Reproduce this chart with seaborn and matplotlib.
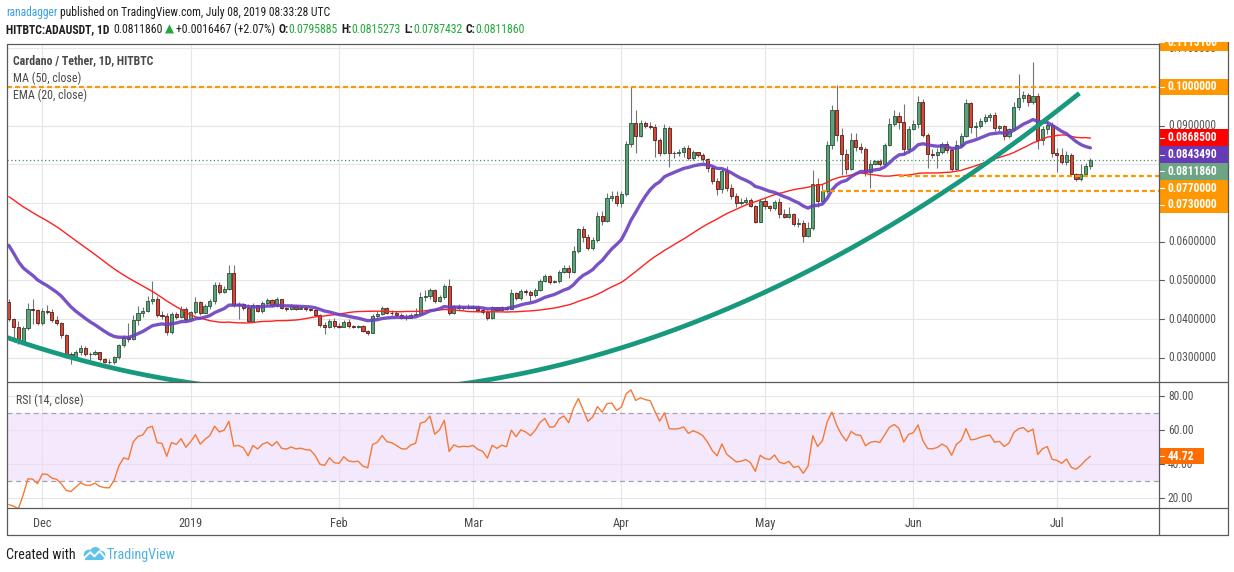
import numpy as np
import pandas as pd
import seaborn as sns
import matplotlib
matplotlib.use("Agg")
import matplotlib.pyplot as plt
import matplotlib.dates as mdates
from matplotlib import font_manager
from matplotlib.lines import Line2D
from matplotlib.patches import Rectangle, Circle

# ---- ADA/USDT daily candles (HitBTC, 2018-11-24 .. 2019-07-08) ----
first_day = "2018-11-24"
first_open = 0.0445

closes = [
    0.0399, 0.0380, 0.0343, 0.0378, 0.0426, 0.0423, 0.0391, 0.0421, 0.0419, 0.0397,
    0.0389, 0.0360, 0.0311, 0.0303, 0.0314, 0.0325, 0.0311, 0.0309, 0.0314, 0.0296,
    0.0289, 0.0288, 0.0302, 0.0333, 0.0353, 0.0348, 0.0397, 0.0416, 0.0421, 0.0447,
    0.0453, 0.0410, 0.0408, 0.0367, 0.0412, 0.0406, 0.0426, 0.0399, 0.0418, 0.0445,
    0.0415, 0.0433, 0.0447, 0.0488, 0.0471, 0.0479, 0.0520, 0.0436, 0.0438, 0.0429,
    0.0396, 0.0436, 0.0422, 0.0441, 0.0449, 0.0436, 0.0452, 0.0429, 0.0426, 0.0433,
    0.0427, 0.0429, 0.0425, 0.0424, 0.0410, 0.0384, 0.0380, 0.0396, 0.0382, 0.0380,
    0.0393, 0.0382, 0.0380, 0.0381, 0.0369, 0.0365, 0.0408, 0.0413, 0.0429, 0.0417,
    0.0415, 0.0410, 0.0404, 0.0403, 0.0410, 0.0413, 0.0456, 0.0460, 0.0476, 0.0447,
    0.0458, 0.0486, 0.0415, 0.0434, 0.0428, 0.0430, 0.0429, 0.0432, 0.0423, 0.0419,
    0.0403, 0.0430, 0.0423, 0.0430, 0.0427, 0.0467, 0.0454, 0.0473, 0.0469, 0.0462,
    0.0476, 0.0499, 0.0512, 0.0497, 0.0498, 0.0522, 0.0532, 0.0521, 0.0577, 0.0634,
    0.0611, 0.0584, 0.0605, 0.0667, 0.0653, 0.0713, 0.0719, 0.0700, 0.0723, 0.0852,
    0.0908, 0.0874, 0.0906, 0.0900, 0.0897, 0.0864, 0.0830, 0.0893, 0.0830, 0.0828,
    0.0831, 0.0841, 0.0817, 0.0831, 0.0824, 0.0814, 0.0791, 0.0758, 0.0736, 0.0783,
    0.0738, 0.0719, 0.0700, 0.0702, 0.0708, 0.0693, 0.0652, 0.0706, 0.0691, 0.0687,
    0.0702, 0.0671, 0.0664, 0.0671, 0.0645, 0.0648, 0.0616, 0.0635, 0.0749, 0.0704,
    0.0731, 0.0849, 0.0941, 0.0877, 0.0827, 0.0789, 0.0863, 0.0844, 0.0840, 0.0779,
    0.0802, 0.0808, 0.0802, 0.0850, 0.0904, 0.0926, 0.0909, 0.0840, 0.0891, 0.0904,
    0.0962, 0.0877, 0.0827, 0.0825, 0.0833, 0.0853, 0.0838, 0.0789, 0.0850, 0.0874,
    0.0958, 0.0896, 0.0900, 0.0913, 0.0921, 0.0927, 0.0893, 0.0898, 0.0874, 0.0891,
    0.0948, 0.0971, 0.0978, 0.0962, 0.0977, 0.0862, 0.0891, 0.0902, 0.0830, 0.0824,
    0.0806, 0.0824, 0.0774, 0.0761, 0.0776, 0.0796, 0.081186,
]

highs = [
    0.0452, 0.0402, 0.0395, 0.0382, 0.0442, 0.0452, 0.0425, 0.0428, 0.0436, 0.0425,
    0.0408, 0.0392, 0.0362, 0.0316, 0.0320, 0.0332, 0.0330, 0.0315, 0.0320, 0.0316,
    0.0300, 0.0296, 0.0305, 0.0336, 0.0360, 0.0390, 0.0410, 0.0434, 0.0430, 0.0460,
    0.0498, 0.0460, 0.0420, 0.0415, 0.0418, 0.0418, 0.0433, 0.0430, 0.0422, 0.0458,
    0.0448, 0.0438, 0.0452, 0.0495, 0.0497, 0.0485, 0.0540, 0.0540, 0.0445, 0.0442,
    0.0440, 0.0442, 0.0436, 0.0446, 0.0455, 0.0452, 0.0458, 0.0452, 0.0432, 0.0438,
    0.0436, 0.0433, 0.0431, 0.0428, 0.0426, 0.0414, 0.0392, 0.0400, 0.0402, 0.0390,
    0.0397, 0.0399, 0.0386, 0.0385, 0.0385, 0.0372, 0.0412, 0.0421, 0.0435, 0.0432,
    0.0424, 0.0422, 0.0416, 0.0412, 0.0415, 0.0428, 0.0469, 0.0475, 0.0480, 0.0478,
    0.0463, 0.0490, 0.0503, 0.0437, 0.0440, 0.0434, 0.0438, 0.0436, 0.0436, 0.0430,
    0.0423, 0.0433, 0.0432, 0.0434, 0.0433, 0.0479, 0.0470, 0.0477, 0.0478, 0.0475,
    0.0480, 0.0503, 0.0516, 0.0514, 0.0502, 0.0527, 0.0540, 0.0540, 0.0590, 0.0636,
    0.0640, 0.0620, 0.0612, 0.0676, 0.0680, 0.0725, 0.0730, 0.0730, 0.0730, 0.0860,
    0.1000, 0.0940, 0.0915, 0.0912, 0.0910, 0.0905, 0.0868, 0.0904, 0.0900, 0.0835,
    0.0840, 0.0846, 0.0850, 0.0836, 0.0833, 0.0830, 0.0815, 0.0795, 0.0765, 0.0788,
    0.0795, 0.0748, 0.0725, 0.0714, 0.0716, 0.0712, 0.0696, 0.0710, 0.0712, 0.0695,
    0.0708, 0.0712, 0.0685, 0.0690, 0.0675, 0.0660, 0.0655, 0.0650, 0.0785, 0.0765,
    0.0750, 0.0860, 0.0952, 0.1004, 0.0895, 0.0840, 0.0880, 0.0880, 0.0856, 0.0845,
    0.0808, 0.0812, 0.0813, 0.0856, 0.0920, 0.0940, 0.0935, 0.0955, 0.0898, 0.0915,
    0.0976, 0.0968, 0.0880, 0.0840, 0.0842, 0.0858, 0.0860, 0.0840, 0.0862, 0.0880,
    0.0970, 0.0962, 0.0910, 0.0920, 0.0930, 0.0933, 0.0934, 0.0902, 0.0902, 0.0895,
    0.0960, 0.1033, 0.0990, 0.0985, 0.1065, 0.0985, 0.0898, 0.0912, 0.0910, 0.0842,
    0.0842, 0.0835, 0.0830, 0.0778, 0.0800, 0.0804, 0.0815273,
]

lows = [
    0.0395, 0.0341, 0.0335, 0.0338, 0.0372, 0.0388, 0.0385, 0.0385, 0.0414, 0.0392,
    0.0385, 0.0352, 0.0305, 0.0285, 0.0300, 0.0308, 0.0305, 0.0290, 0.0306, 0.0292,
    0.0286, 0.0284, 0.0285, 0.0296, 0.0328, 0.0342, 0.0346, 0.0386, 0.0405, 0.0418,
    0.0438, 0.0405, 0.0400, 0.0360, 0.0362, 0.0400, 0.0402, 0.0394, 0.0398, 0.0414,
    0.0410, 0.0418, 0.0426, 0.0438, 0.0466, 0.0468, 0.0476, 0.0430, 0.0400, 0.0424,
    0.0392, 0.0395, 0.0418, 0.0415, 0.0436, 0.0432, 0.0432, 0.0425, 0.0422, 0.0423,
    0.0424, 0.0425, 0.0421, 0.0420, 0.0407, 0.0380, 0.0362, 0.0377, 0.0378, 0.0376,
    0.0381, 0.0378, 0.0377, 0.0378, 0.0366, 0.0360, 0.0363, 0.0404, 0.0410, 0.0414,
    0.0411, 0.0407, 0.0399, 0.0398, 0.0402, 0.0408, 0.0411, 0.0448, 0.0452, 0.0442,
    0.0443, 0.0452, 0.0410, 0.0412, 0.0424, 0.0423, 0.0425, 0.0426, 0.0418, 0.0414,
    0.0397, 0.0400, 0.0420, 0.0420, 0.0424, 0.0425, 0.0449, 0.0450, 0.0463, 0.0445,
    0.0458, 0.0472, 0.0495, 0.0490, 0.0493, 0.0492, 0.0518, 0.0505, 0.0518, 0.0570,
    0.0600, 0.0578, 0.0578, 0.0600, 0.0642, 0.0650, 0.0705, 0.0692, 0.0690, 0.0718,
    0.0845, 0.0828, 0.0870, 0.0893, 0.0892, 0.0820, 0.0822, 0.0826, 0.0792, 0.0815,
    0.0822, 0.0820, 0.0810, 0.0812, 0.0818, 0.0806, 0.0780, 0.0748, 0.0720, 0.0727,
    0.0730, 0.0710, 0.0690, 0.0695, 0.0698, 0.0690, 0.0648, 0.0650, 0.0684, 0.0680,
    0.0682, 0.0660, 0.0660, 0.0660, 0.0640, 0.0638, 0.0600, 0.0612, 0.0630, 0.0690,
    0.0700, 0.0726, 0.0840, 0.0860, 0.0772, 0.0776, 0.0785, 0.0835, 0.0830, 0.0770,
    0.0740, 0.0798, 0.0796, 0.0798, 0.0846, 0.0900, 0.0890, 0.0825, 0.0830, 0.0888,
    0.0895, 0.0870, 0.0790, 0.0815, 0.0790, 0.0826, 0.0828, 0.0782, 0.0785, 0.0845,
    0.0870, 0.0880, 0.0870, 0.0895, 0.0908, 0.0912, 0.0885, 0.0886, 0.0862, 0.0868,
    0.0885, 0.0940, 0.0960, 0.0950, 0.0955, 0.0840, 0.0850, 0.0878, 0.0820, 0.0780,
    0.0800, 0.0798, 0.0770, 0.0757, 0.0758, 0.0770, 0.0787432,
]

# closes before the visible window (2018-10-05 .. 11-23), only to warm up MA / EMA / RSI
prior_closes = [
    0.0800, 0.0805, 0.0795, 0.0810, 0.0800, 0.0790, 0.0775, 0.0760, 0.0770, 0.0780,
    0.0775, 0.0790, 0.0770, 0.0765, 0.0760, 0.0765, 0.0760, 0.0755, 0.0760, 0.0765,
    0.0760, 0.0755, 0.0750, 0.0745, 0.0740, 0.0735, 0.0745, 0.0760, 0.0775, 0.0790,
    0.0800, 0.0810, 0.0805, 0.0800, 0.0790, 0.0780, 0.0770, 0.0760, 0.0750, 0.0700,
    0.0580, 0.0600, 0.0620, 0.0590, 0.0560, 0.0510, 0.0480, 0.0500, 0.0470, 0.0445,
]

# horizontal levels drawn by the author and where they start (None = whole width)
level_prices = [0.1115100, 0.1000000, 0.0770000, 0.0730000]
level_starts = [None, None, "2019-05-29", "2019-05-13"]

# curved support line: three points it passes through (days after first_day, price)
curve_days = [-0.4, 127.7, 223.7]
curve_prices = [0.03525, 0.03246, 0.09835]

ma_value = 0.0868500
ema_value = 0.0843490
rsi_value = 44.72

month_starts = ["2018-12-01", "2019-01-01", "2019-02-01", "2019-03-01",
                "2019-04-01", "2019-05-01", "2019-06-01", "2019-07-01"]
month_labels = ["Dec", "2019", "Feb", "Mar", "Apr", "May", "Jun", "Jul"]
# grey scale labels that are not hidden behind the coloured price tags
price_ticks = [0.03, 0.04, 0.05, 0.06, 0.09, 0.11]
rsi_ticks = [20, 40, 60, 80]

# ---- colours ----
UP_FILL, UP_EDGE = "#5FA07A", "#225437"
DN_FILL, DN_EDGE = "#D24A3A", "#5B1A13"
WICK = "#737375"
ORANGE = "#FF9800"
FRAME = "#5a5a5a"
GRID = "#e6e6e6"
TXT = "#4a4a4a"
GREEN = "#22A83A"
DARK = "#1e1e1e"

# ---- pixel geometry of the TradingView snapshot ----
W, H = 1234, 572
X0, X1, XR = 6.7, 1159.3, 1227.7
Y_TOP, Y_MID, Y_RSI, Y_BOT = 43.5, 382.0, 508.0, 535.0
PX_PER_UNIT = 3870.0


def price_at(y):
    return 0.06 + (241.7 - y) / PX_PER_UNIT


def rsi_at(y):
    return 20 + (498.3 - y) / 1.7


def box(x0, y0, x1, y1):
    return [x0 / W, 1 - y1 / H, (x1 - x0) / W, (y1 - y0) / H]


sns.set_theme(style="white")

# the snapshot uses a narrow UI face; take a condensed one when the box has it
ttf = font_manager.fontManager.ttflist
names = {f.name for f in ttf}
family, stretch = "Liberation Sans", "normal"
for cand in ("Liberation Sans Narrow", "Roboto Condensed", "Open Sans Condensed",
             "Noto Sans Condensed", "DejaVu Sans Condensed"):
    if cand in names:
        family = cand
        break
else:
    for cand in ("Noto Sans", "Open Sans", "Roboto", "DejaVu Sans"):
        if any(f.name == cand and f.stretch in ("condensed", "semi-condensed") for f in ttf):
            family, stretch = cand, "condensed"
            break
plt.rcParams["font.family"] = [family, "DejaVu Sans"]
plt.rcParams["font.stretch"] = stretch

fig = plt.figure(figsize=(W / 100, H / 100), dpi=100)
fig.patch.set_facecolor("white")
renderer = fig.canvas.get_renderer()


def fit_size(s, target_px, weight="normal", cap=10.0):
    tmp = fig.text(0, 0, s, fontsize=10, fontweight=weight)
    w = tmp.get_window_extent(renderer=renderer).width
    tmp.remove()
    return min(cap, 10 * target_px / w)


axis_fs = fit_size("0.1000000", 50, "bold", 8.8)
legend_fs = fit_size("Cardano / Tether, 1D, HITBTC", 141, "bold", 9.2)
date_fs = fit_size("2019", 25, "normal", 8.8)
foot_fs = fit_size("Created with", 72, "normal", 10.2)

dates = pd.date_range(first_day, periods=len(closes), freq="D")
t = mdates.date2num(dates)
t0 = t[0]
c = np.array(closes)
o = np.array([first_open] + closes[:-1])
h = np.maximum(np.array(highs), np.maximum(o, c))
lo = np.minimum(np.array(lows), np.minimum(o, c))

all_closes = pd.Series(prior_closes + closes)
n_prior = len(prior_closes)
ma50 = all_closes.rolling(50).mean().values[n_prior:]
ema20 = all_closes.ewm(span=20, adjust=False).mean().values[n_prior:]
delta = all_closes.diff()
avg_gain = delta.clip(lower=0).ewm(alpha=1 / 14, adjust=False).mean()
avg_loss = (-delta.clip(upper=0)).ewm(alpha=1 / 14, adjust=False).mean()
rsi = (100 - 100 / (1 + avg_gain / avg_loss)).values[n_prior:]

month_t = mdates.date2num(pd.to_datetime(month_starts))
xlim = (t0 - 0.44, t0 + 240.4)

# ---- main price panel ----
ax = fig.add_axes(box(X0, Y_TOP, X1, Y_MID))
ax.set_xlim(*xlim)
ax.set_ylim(price_at(Y_MID), price_at(Y_TOP))
ax.set_yticks(np.arange(0.03, 0.115, 0.01))
ax.set_xticks(month_t)
ax.grid(True, color=GRID, lw=0.8)
ax.tick_params(length=0, labelbottom=False, labelleft=False)
for s in ax.spines.values():
    s.set_visible(False)

ax.vlines(t, lo, h, color=WICK, lw=0.8, zorder=2)
body = np.maximum(np.abs(c - o), 0.00012)
up = c >= o
ax.bar(t[up], body[up], bottom=np.minimum(o, c)[up], width=0.66, color=UP_FILL,
       edgecolor=UP_EDGE, linewidth=0.6, zorder=3)
ax.bar(t[~up], body[~up], bottom=np.minimum(o, c)[~up], width=0.66, color=DN_FILL,
       edgecolor=DN_EDGE, linewidth=0.6, zorder=3)

sns.lineplot(x=t, y=ma50, ax=ax, color="#FF2020", lw=1.0, zorder=4)
sns.lineplot(x=t, y=ema20, ax=ax, color="#6B40C0", lw=2.4, alpha=0.9, zorder=5)

for price, start in zip(level_prices, level_starts):
    xs = xlim[0] if start is None else mdates.date2num(pd.Timestamp(start))
    ax.hlines(price, xs, xlim[1], color=ORANGE, lw=1.6, linestyles=(0, (2.2, 1.4)), zorder=6)

ax.axhline(closes[-1], color="#4e8a64", lw=0.9, ls=(0, (1, 2)), zorder=6)

coef = np.polyfit(curve_days, curve_prices, 2)
cx = np.linspace(-1.0, curve_days[-1], 400)
ax.plot(t0 + cx, np.polyval(coef, cx), color="#18997D", lw=3.4, zorder=7,
        solid_capstyle="butt")

fig.text(12.7 / W, 1 - 61 / H, "Cardano / Tether, 1D, HITBTC", color=TXT,
         fontsize=legend_fs, fontweight="bold", va="center")
fig.text(12.7 / W, 1 - 78 / H, "MA (50, close)", color=TXT, fontsize=legend_fs, va="center")
fig.text(12.7 / W, 1 - 95 / H, "EMA (20, close)", color=TXT, fontsize=legend_fs, va="center")

# ---- RSI panel ----
axr = fig.add_axes(box(X0, Y_MID, X1, Y_RSI))
axr.set_xlim(*xlim)
axr.set_ylim(rsi_at(Y_RSI), rsi_at(Y_MID))
axr.set_yticks(rsi_ticks)
axr.set_xticks(month_t)
axr.set_xticklabels(month_labels)
axr.grid(True, color=GRID, lw=0.8)
axr.tick_params(axis="y", length=0, labelleft=False)
axr.tick_params(axis="x", direction="out", length=3, width=0.8, color=FRAME,
                labelsize=date_fs, labelcolor=TXT, pad=3.5)
for s in axr.spines.values():
    s.set_visible(False)
axr.axhspan(30, 70, color="#ecd9fb", alpha=0.6, lw=0, zorder=1)
for lvl in (30, 70):
    axr.axhline(lvl, color="#a8a2ae", lw=0.9, ls=(0, (4, 3)), zorder=2)
sns.lineplot(x=t, y=rsi, ax=axr, color="#F57A34", lw=1.0, zorder=3)
axr.set_xlabel("")
axr.set_ylabel("")
fig.text(15.7 / W, 1 - 400 / H, "RSI (14, close)", color=TXT, fontsize=legend_fs, va="center")

# ---- right-hand price scale ----
axp = fig.add_axes(box(X1, 41.5, XR, Y_MID))
axp.set_xlim(0, 1)
axp.set_ylim(price_at(Y_MID), price_at(41.5))
axp.axis("off")
for v in price_ticks:
    axp.plot([0, 0.07], [v, v], color=FRAME, lw=0.8, zorder=1)
    axp.text(0.127, v, f"{v:.7f}", color="#555555", fontsize=axis_fs, va="center",
             zorder=1, clip_on=True)

box_h = 16.8 / PX_PER_UNIT
labels = [(level_prices[0], ORANGE), (level_prices[1], ORANGE), (ma_value, "#FF0000"),
          (ema_value, "#673AB7"), (closes[-1], "#6BA583"),
          (level_prices[2], ORANGE), (level_prices[3], ORANGE)]
labels.sort(key=lambda item: -item[0])
prev = None
for value, col in labels:
    centre = value if prev is None else min(value, prev - box_h)
    prev = centre
    axp.add_patch(Rectangle((0, centre - box_h / 2), 1, box_h, color=col, lw=0, zorder=3))
    axp.plot([0, 0.07], [centre, centre], color="white", lw=0.8, zorder=4)
    axp.text(0.127, centre, f"{value:.7f}", color="white", fontsize=axis_fs,
             fontweight="bold", va="center", zorder=4, clip_on=True)

axrc = fig.add_axes(box(X1, Y_MID, XR, Y_RSI))
axrc.set_xlim(0, 1)
axrc.set_ylim(rsi_at(Y_RSI), rsi_at(Y_MID))
axrc.axis("off")
for v in rsi_ticks:
    axrc.plot([0, 0.07], [v, v], color=FRAME, lw=0.8)
    axrc.text(0.127, v, f"{v:.2f}", color="#555555", fontsize=axis_fs, va="center")
rh = 16.0 / 1.7
axrc.add_patch(Rectangle((0, rsi_value - rh / 2), 0.658, rh, color="#FF6D00", lw=0, zorder=3))
axrc.plot([0, 0.07], [rsi_value, rsi_value], color="white", lw=0.8, zorder=4)
axrc.text(0.127, rsi_value, f"{rsi_value:.2f}", color="white", fontsize=axis_fs,
          fontweight="bold", va="center", zorder=4)


# ---- frame ----
def hline(y, x0=X0, x1=XR):
    fig.add_artist(Line2D([x0 / W, x1 / W], [1 - y / H, 1 - y / H], color=FRAME, lw=0.9))


def vline(x, y0, y1=Y_BOT):
    fig.add_artist(Line2D([x / W, x / W], [1 - y0 / H, 1 - y1 / H], color=FRAME, lw=0.9))


hline(Y_TOP, X0, X1)
hline(Y_MID)
hline(Y_RSI)
hline(Y_BOT)
vline(X0, Y_TOP)
vline(X1, Y_TOP)
vline(XR, 41.5)


# ---- header and footer ----
def draw_runs(x, y, runs, size):
    start = x
    drawn = []
    for txt, col, weight, gap in runs:
        tx = fig.text(x / W, 1 - y / H, txt, color=col, fontsize=size,
                      fontweight=weight, va="center", ha="left")
        drawn.append(tx)
        x = tx.get_window_extent(renderer=renderer).x1 + gap * size / 9.6
    return drawn, x - start


def draw_fitted(x, y, runs, target_px, cap):
    drawn, width = draw_runs(x, y, runs, 10)
    for tx in drawn:
        tx.remove()
    draw_runs(x, y, runs, min(cap, 10 * target_px / width))


draw_fitted(6, 12.5, [("ranadagger", "#3A9FE0", "normal", 3),
                      ("published on TradingView.com, July 08, 2019 08:33:28 UTC", DARK, "normal", 0)],
            326, 9.6)
draw_fitted(6, 29.5, [("HITBTC:ADAUSDT, 1D", DARK, "bold", 5),
                      ("0.0811860", DARK, "normal", 2),
                      ("\u25b2", GREEN, "normal", 2),
                      ("+0.0016467 (+2.07%)", DARK, "normal", 4),
                      ("O:", DARK, "bold", 0), ("0.0795885", GREEN, "normal", 4),
                      ("H:", DARK, "bold", 0), ("0.0815273", GREEN, "normal", 4),
                      ("L:", DARK, "bold", 0), ("0.0787432", GREEN, "normal", 4),
                      ("C:", DARK, "bold", 0), ("0.0811860", GREEN, "normal", 0)],
            516, 9.6)

fig.text(6 / W, 1 - 555 / H, "Created with", color=DARK, fontsize=foot_fs, va="center")
fig.text(106.5 / W, 1 - 555 / H, "TradingView", color="#4FB3E3", fontsize=foot_fs, va="center")

logo = fig.add_axes(box(81.7, 546.5, 106, 561))
logo.set_xlim(0, 24)
logo.set_ylim(0, 14)
logo.axis("off")
for cxy, r in (((7.0, 6.0), 5.0), ((13.5, 8.0), 5.5), ((19.0, 5.5), 4.5)):
    logo.add_patch(Circle(cxy, r, color="#5EC3EC", lw=0))
logo.add_patch(Rectangle((3.5, 1.0), 17.5, 5.0, color="#5EC3EC", lw=0))
logo.plot([2.5, 8.5, 12.5, 17.5, 22.5], [3.0, 8.5, 4.5, 9.5, 4.0], color="white", lw=1.4)

fig.savefig("out.png", dpi=100, facecolor="white")
